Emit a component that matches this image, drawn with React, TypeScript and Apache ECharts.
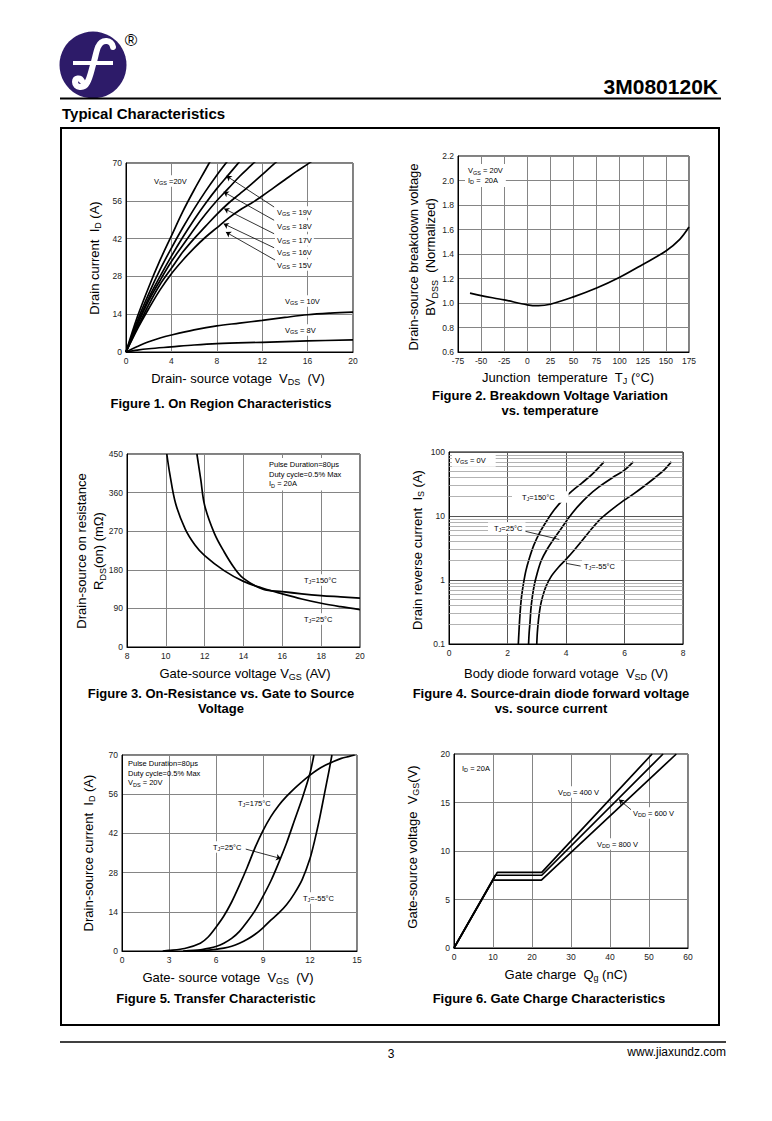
import React, { useEffect, useRef } from "react";
import * as echarts from "echarts";

const FONT = "'Liberation Sans', Arial, Helvetica, sans-serif";

// ---------- Figure 1: On region characteristics (Vds, Id) ----------
const f1Vgs20 = [[0,0],[1,13],[2,24],[3,34],[4,43],[5,52],[6,60],[7,67.5],[8,75]];
const f1Vgs19 = [[0,0],[1,11.5],[2,21.5],[3,30.5],[4,38.5],[5,46],[6,53],[7,59.5],[8,65.5],[9,71]];
const f1Vgs18 = [[0,0],[1,10.5],[2,20],[3,28],[4,35.5],[5,42.5],[6,49],[7,55],[8,60.5],[9,65.5],[10,70.5]];
const f1Vgs17 = [[0,0],[1,10],[2,19],[3,26.5],[4,33.5],[5,39.5],[6,45.5],[7,51],[8,56],[9,60.5],[10,65],[11,69],[12,73]];
const f1Vgs16 = [[0,0],[1,9],[2,17.5],[3,25],[4,31],[5,37],[6,42],[7,46.5],[8,51],[9,55],[10,58.5],[11,62],[12,65.7],[13,69.5],[14,73]];
const f1Vgs15 = [[0,0],[1,8.5],[2,16],[3,23],[4,29],[5,34],[6,38.5],[7,42.5],[8,46],[9,49.5],[10,52.5],[11,55],[12,57.8],[13,60.8],[14,63.8],[15,66.8],[16,69.6],[17,72.5]];
const f1Vgs10 = [[0,0],[1,2],[2,3.8],[3,5.2],[4,6.3],[6,8.2],[8,9.7],[10,10.7],[12,11.7],[14,12.8],[16,13.8],[18,14.4],[20,14.8]];
const f1Vgs8 = [[0,0],[1,0.7],[2,1.2],[4,1.9],[6,2.6],[8,3.1],[12,3.6],[16,4.1],[20,4.5]];
const f1Arrows = [
  [[13.05,53.7],[8.85,65.2]],
  [[13.05,48.8],[8.6,59.3]],
  [[13.05,43.8],[8.65,53.1]],
  [[13.05,38.6],[8.6,47.5]],
  [[13.2,33.9],[8.8,44.4]],
];

// ---------- Figure 2: BVdss vs Tj ----------
const f2Bv = [[-62,1.08],[-50,1.06],[-25,1.025],[0,0.985],[12,0.978],[25,0.99],[50,1.05],[75,1.122],[100,1.21],[125,1.315],[150,1.425],[165,1.52],[175,1.62]];

// ---------- Figure 3: Rds(on) vs Vgs ----------
const f3T25 = [[10.05,450],[10.2,405],[10.5,335],[11,275],[11.5,238],[12,213],[13,178],[14,153],[15,137],[16,124],[17,112],[18,102],[19,94],[20,87]];
const f3T150 = [[11.6,450],[11.8,390],[12,330],[12.5,265],[13,222],[13.5,186],[14,160],[15,135],[16,129],[17,124],[18,120],[19,117],[20,114]];

// ---------- Figure 4: Body diode forward (log) ----------
const f4T150 = [[2.37,0.1],[2.39,0.15],[2.41,0.22],[2.44,0.35],[2.48,0.55],[2.55,0.9],[2.63,1.4],[2.75,2.2],[2.9,3.5],[3.1,5.5],[3.35,8.5],[3.6,12.5],[3.9,18],[4.2,24.5],[4.55,33],[4.9,45],[5.3,70]];
const f4T25 = [[2.72,0.1],[2.74,0.15],[2.77,0.22],[2.8,0.35],[2.85,0.55],[2.92,0.85],[3.02,1.3],[3.15,2],[3.35,3],[3.6,4.5],[3.85,6.5],[4.1,9.5],[4.4,14],[4.75,20.5],[5.15,29],[5.6,40],[6.0,52],[6.3,70]];
const f4Tm55 = [[3.0,0.1],[3.02,0.15],[3.06,0.24],[3.12,0.38],[3.2,0.55],[3.32,0.8],[3.5,1.15],[3.75,1.6],[4.0,2.1],[4.3,3.0],[4.6,4.4],[4.9,6.5],[5.2,9.2],[5.55,12.5],[5.9,16.5],[6.3,22],[6.7,30],[7.05,40],[7.35,52],[7.6,70]];
const f4MinorTicks = [0.2,0.3,0.4,0.5,0.6,0.7,0.8,0.9,2,3,4,5,6,7,8,9,20,30,40,50,60,70,80,90];
const f4Arrows = [
  [[2.26,6.3],[3.77,4.3]],
  [[4.5,1.65],[4.0,1.82]],
];

// ---------- Figure 5: Transfer characteristic ----------
const f5T175 = [[2.6,0],[3,0.2],[4,0.9],[5,2.8],[5.5,5],[6,8.5],[6.5,12.5],[7,17.5],[7.5,23.5],[8,30],[8.5,37],[9,43],[9.5,48],[10,52],[10.5,55.2],[11,58],[11.5,60.5],[12,62.8],[12.5,64.8],[13,66.4],[13.5,67.7],[14,68.8],[14.5,69.5],[14.85,70]];
const f5T25 = [[3.9,0],[5,0.4],[5.6,1],[6,1.6],[6.5,2.8],[7,4.5],[7.5,7],[8,10.5],[8.5,14.5],[9,19.5],[9.5,25],[10,31.5],[10.5,38.5],[11,46.5],[11.5,54.5],[12,63.5],[12.25,70]];
const f5Tm55 = [[4.8,0],[6,0.6],[6.5,1],[7,1.7],[7.5,2.8],[8,4.2],[8.5,6],[9,8.3],[9.5,11],[10,13.5],[10.5,16.5],[11,20.5],[11.5,25.5],[12,33],[12.3,39.5],[12.6,47],[12.9,55.5],[13.2,64],[13.4,70]];
const f5Arrows = [[[7.9,36.4],[10.15,33]]];

// ---------- Figure 6: Gate charge ----------
const f6Vdd400 = [[0,0],[11.1,7.8],[22.5,7.8],[50.8,20]];
const f6Vdd600 = [[0,0],[10.6,7.5],[22.5,7.5],[53.6,20]];
const f6Vdd800 = [[0,0],[10,7.0],[22.4,7.0],[57,20]];
const f6Arrows = [[[46,14.05],[42.3,15.3]]];

// ---------- axis ranges / ticks ----------
const axesX = [
  { min: 0, max: 20, interval: 4 },
  { min: -75, max: 175, interval: 25 },
  { min: 8, max: 20, interval: 2 },
  { min: 0, max: 8, interval: 2 },
  { min: 0, max: 15, interval: 3 },
  { min: 0, max: 60, interval: 10 },
];
const axesY = [
  { min: 0, max: 70, interval: 14 },
  { min: 0.6, max: 2.2, interval: 0.2 },
  { min: 0, max: 450, interval: 90 },
  { log: true, min: 0.1, max: 100 },
  { min: 0, max: 70, interval: 14 },
  { min: 0, max: 20, interval: 5 },
];

const F_PATH =
  "M 20 -18 C 19 -25 9 -27 5 -18 C 3 -13 2 -6 0 0 C -2 7 -3 13 -6 18 C -9 24 -18 23 -18 17 C -18 13 -13 12 -11 16";

const RICH_BIG = {
  n: { fontSize: 13, fontFamily: FONT, lineHeight: 17 },
  s: { fontSize: 9, fontFamily: FONT, lineHeight: 11, verticalAlign: "bottom" },
};
const RICH_SM = {
  a: { fontSize: 7.5, fontFamily: FONT, lineHeight: 9.5 },
  b: { fontSize: 5.5, fontFamily: FONT, lineHeight: 7, verticalAlign: "bottom" },
};

function txt(x: number, y: number, text: string, o: any = {}) {
  return {
    type: "text",
    x,
    y,
    z: 100,
    silent: true,
    rotation: o.rot || 0,
    style: {
      text,
      fill: "#000",
      fontFamily: FONT,
      fontSize: o.size || 13,
      fontWeight: o.bold ? "bold" : "normal",
      align: o.align || "center",
      verticalAlign: o.va || "middle",
      rich: o.rich,
      lineHeight: o.lh,
      backgroundColor: o.bg,
      padding: o.pad,
    },
  };
}

function curve(data: number[][], gi: number, extra: any = {}) {
  return {
    type: "line",
    data,
    xAxisIndex: gi,
    yAxisIndex: gi,
    showSymbol: false,
    symbol: "none",
    smooth: extra.smooth === undefined ? 0.35 : extra.smooth,
    silent: true,
    z: 3,
    lineStyle: { color: "#000", width: 1.7 },
    ...(extra.markLine ? { markLine: extra.markLine } : {}),
  };
}

function arrowMark(list: number[][][], withHead = true) {
  return {
    silent: true,
    symbol: withHead ? ["none", "arrow"] : ["none", "none"],
    symbolSize: 5,
    label: { show: false },
    lineStyle: { color: "#000", width: 0.8, type: "solid" },
    data: list.map((a) => [{ coord: a[0] }, { coord: a[1] }]),
  };
}

function buildOption() {
  const gridPos = [
    { left: 126, top: 163, width: 227, height: 189 },
    { left: 458, top: 156, width: 231, height: 196 },
    { left: 127, top: 454, width: 233, height: 193 },
    { left: 449, top: 452, width: 234, height: 192 },
    { left: 122, top: 755, width: 235, height: 196 },
    { left: 454, top: 754, width: 234, height: 194 },
  ];
  const grid = gridPos.map((g) => ({ ...g, show: true, borderColor: "#000", borderWidth: 1, backgroundColor: "#fff" }));

  const axisCommon = (gi: number, isGrid4 = false) => ({
    gridIndex: gi,
    axisLine: { show: true, onZero: false, lineStyle: { color: "#000", width: 1 } },
    axisTick: { show: false },
    axisLabel: { color: "#222", fontSize: 8.5, fontFamily: FONT, margin: 4 },
    splitLine: { show: true, lineStyle: { color: isGrid4 ? "#555" : "#858585", width: 1 } },
  });

  const xAxis = axesX.map((a, i) => ({
    type: "value",
    ...axisCommon(i, i === 3),
    min: a.min,
    max: a.max,
    interval: a.interval,
  }));
  const yAxis = axesY.map((a: any, i) => {
    const base: any = { ...axisCommon(i, i === 3) };
    if (a.log) {
      return {
        ...base,
        type: "log",
        logBase: 10,
        min: a.min,
        max: a.max,
        axisLabel: { ...base.axisLabel, formatter: (v: number) => String(+Number(v).toPrecision(2)) },
      };
    }
    return {
      ...base,
      type: "value",
      min: a.min,
      max: a.max,
      interval: a.interval,
      axisLabel: {
        ...base.axisLabel,
        formatter: i === 1 ? (v: number) => v.toFixed(1) : (v: number) => String(Math.round(v)),
      },
    };
  });

  const series: any[] = [
    curve(f1Vgs20, 0, { markLine: arrowMark(f1Arrows) }),
    curve(f1Vgs19, 0),
    curve(f1Vgs18, 0),
    curve(f1Vgs17, 0),
    curve(f1Vgs16, 0),
    curve(f1Vgs15, 0),
    curve(f1Vgs10, 0),
    curve(f1Vgs8, 0),
    curve(f2Bv, 1),
    curve(f3T25, 2),
    curve(f3T150, 2),
    {
      type: "line",
      xAxisIndex: 3,
      yAxisIndex: 3,
      data: [[0, 0.1]],
      showSymbol: false,
      symbol: "none",
      silent: true,
      z: 1,
      lineStyle: { width: 0 },
      markLine: {
        silent: true,
        symbol: ["none", "none"],
        label: { show: false },
        lineStyle: { color: "#a0a0a0", width: 0.8, type: "solid" },
        data: f4MinorTicks.map((v) => ({ yAxis: v })),
      },
    },
    curve(f4T150, 3, { smooth: 0.25 }),
    curve(f4T25, 3, { smooth: 0.25, markLine: arrowMark(f4Arrows, false) }),
    curve(f4Tm55, 3, { smooth: 0.25 }),
    curve(f5T175, 4, { smooth: 0.25 }),
    curve(f5T25, 4, { smooth: 0.25, markLine: arrowMark(f5Arrows) }),
    curve(f5Tm55, 4, { smooth: 0.25 }),
    curve(f6Vdd400, 5, { smooth: false }),
    curve(f6Vdd600, 5, { smooth: false, markLine: arrowMark(f6Arrows) }),
    curve(f6Vdd800, 5, { smooth: false }),
  ];

  const sub = (a: string, b: string, c: string) => `{n|${a}}{s|${b}}{n|${c}}`;
  const ssub = (a: string, b: string, c: string) => `{a|${a}}{b|${b}}{a|${c}}`;
  const ROT = Math.PI / 2;
  const big = { rich: RICH_BIG };
  const sm = (o: any = {}) => ({ rich: RICH_SM, size: 7.5, align: "left", ...o });
  const WB = { bg: "#fff", pad: [1, 2] };

  const graphic: any[] = [
    // header
    { type: "circle", z: 100, silent: true, shape: { cx: 93, cy: 65, r: 33.5 }, style: { fill: "#2d1b69" } },
    { type: "logoF", z: 101, silent: true, x: 93, y: 65, scaleX: 1, scaleY: 1, style: { stroke: "#fff", fill: "none", lineWidth: 6, lineCap: "round" } },
    { type: "rect", z: 101, silent: true, shape: { x: 73, y: 61, width: 40, height: 4 }, style: { fill: "#fff" } },
    txt(131, 40, "®", { size: 17 }),
    txt(718, 86, "3M080120K", { size: 21, bold: true, align: "right" }),
    { type: "line", z: 100, silent: true, shape: { x1: 60, y1: 98.5, x2: 721, y2: 98.5 }, style: { stroke: "#000", lineWidth: 2 } },
    txt(62, 113, "Typical Characteristics", { size: 15, bold: true, align: "left" }),
    { type: "rect", z: 100, silent: true, shape: { x: 61, y: 128, width: 658, height: 897 }, style: { stroke: "#000", fill: "none", lineWidth: 2 } },
    { type: "line", z: 100, silent: true, shape: { x1: 60, y1: 1042, x2: 726, y2: 1042 }, style: { stroke: "#000", lineWidth: 1.5 } },
    txt(391, 1054, "3", { size: 12 }),
    txt(726, 1052, "www.jiaxundz.com", { size: 12, align: "right" }),

    // figure titles
    txt(221, 403, "Figure 1. On Region Characteristics", { bold: true }),
    txt(550, 395, "Figure 2. Breakdown Voltage Variation", { bold: true }),
    txt(550, 410, "vs. temperature", { bold: true }),
    txt(221, 693, "Figure 3. On-Resistance vs. Gate to Source", { bold: true }),
    txt(221, 708, "Voltage", { bold: true }),
    txt(551, 693, "Figure 4. Source-drain diode forward voltage", { bold: true }),
    txt(551, 708, "vs. source current", { bold: true }),
    txt(216, 998, "Figure 5. Transfer Characteristic", { bold: true }),
    txt(549, 998, "Figure 6. Gate Charge Characteristics", { bold: true }),

    // axis names
    txt(238, 378, sub("Drain- source votage  V", "DS", "  (V)"), big),
    txt(94, 258, sub("Drain current  I", "D", " (A)"), { ...big, rot: ROT }),
    txt(568, 377, sub("Junction  temperature  T", "J", " (°C)"), big),
    txt(422, 257, "{n|Drain-source breakdown voltage}\n" + sub("BV", "DSS", "  (Normalized)"), { ...big, rot: ROT }),
    txt(245, 673, sub("Gate-source voltage V", "GS", " (AV)"), big),
    txt(90, 551, "{n|Drain-source on resistance}\n" + sub("R", "DS", "(on) (mΩ)"), { ...big, rot: ROT }),
    txt(566, 673, sub("Body diode forward votage  V", "SD", " (V)"), big),
    txt(417, 550, sub("Drain reverse current  I", "S", " (A)"), { ...big, rot: ROT }),
    txt(228, 977, sub("Gate- source votage  V", "GS", "  (V)"), big),
    txt(88, 853, sub("Drain-source current  I", "D", " (A)"), { ...big, rot: ROT }),
    txt(566, 974, sub("Gate charge  Q", "g", " (nC)"), big),
    txt(412, 847, sub("Gate-source voltage  V", "GS", "(V)"), { ...big, rot: ROT }),

    // figure 1 annotations
    txt(152, 181, ssub("V", "GS", " =20V"), sm(WB)),
    txt(275, 212, ssub("V", "GS", " = 19V"), sm(WB)),
    txt(275, 226, ssub("V", "GS", " = 18V"), sm(WB)),
    txt(275, 240, ssub("V", "GS", " = 17V"), sm(WB)),
    txt(275, 252, ssub("V", "GS", " = 16V"), sm(WB)),
    txt(275, 265, ssub("V", "GS", " = 15V"), sm(WB)),
    txt(283, 301, ssub("V", "GS", " = 10V"), sm(WB)),
    txt(283, 330, ssub("V", "GS", " = 8V"), sm(WB)),

    // figure 2
    txt(465, 164, ssub("V", "GS", " = 20V") + "\n" + ssub("I", "D", " =  20A"), sm({ va: "top", bg: "#fff", pad: [2, 3] })),

    // figure 3
    txt(266, 458, "{a|Pulse Duration=80μs}\n{a|Duty cycle=0.5% Max}\n" + ssub("I", "D", " = 20A"), sm({ va: "top", bg: "#fff", pad: [2, 3] })),
    txt(302, 580, ssub("T", "J", "=150°C"), sm(WB)),
    txt(302, 619, ssub("T", "J", "=25°C"), sm(WB)),

    // figure 4
    txt(452, 460, ssub("V", "GS", " = 0V"), sm({ bg: "#fff", pad: [2, 10, 2, 3] })),
    txt(512, 497, ssub("T", "J", "=150°C"), sm({ bg: "#fff", pad: [1, 14, 1, 10] })),
    txt(488, 528, ssub("T", "J", "=25°C"), sm({ bg: "#fff", pad: [1, 3, 1, 6] })),
    txt(582, 566, ssub("T", "J", "=-55°C"), sm({ bg: "#fff", pad: [1, 6, 1, 2] })),

    // figure 5
    txt(128, 759, "{a|Pulse Duration=80μs}\n{a|Duty cycle=0.5% Max}\n" + ssub("V", "DS", " = 20V"), sm({ va: "top" })),
    txt(236, 803, ssub("T", "J", "=175°C"), sm(WB)),
    txt(211, 847, ssub("T", "J", "=25°C"), sm(WB)),
    txt(301, 898, ssub("T", "J", "=-55°C"), sm(WB)),

    // figure 6
    txt(462, 768, ssub("I", "D", " = 20A"), sm()),
    txt(556, 792, ssub("V", "DD", " = 400 V"), sm(WB)),
    txt(631, 813, ssub("V", "DD", " = 600 V"), sm(WB)),
    txt(595, 844, ssub("V", "DD", " = 800 V"), sm(WB)),
  ];

  return {
    animation: false,
    backgroundColor: "#fff",
    textStyle: { fontFamily: FONT },
    grid,
    xAxis,
    yAxis,
    series,
    graphic: { elements: graphic },
  };
}

let registered = false;

export default function App() {
  const ref = useRef<HTMLDivElement>(null);
  useEffect(() => {
    if (!ref.current) return;
    if (!registered) {
      echarts.graphic.registerShape("logoF", echarts.graphic.extendPath(F_PATH, {}));
      registered = true;
    }
    const chart = echarts.init(ref.current, undefined, { renderer: "svg" });
    chart.setOption(buildOption() as any);
    return () => chart.dispose();
  }, []);
  return (
    <div
      ref={ref}
      style={{ position: "absolute", left: 0, top: 0, width: 772, height: 1121, background: "#fff" }}
    />
  );
}
